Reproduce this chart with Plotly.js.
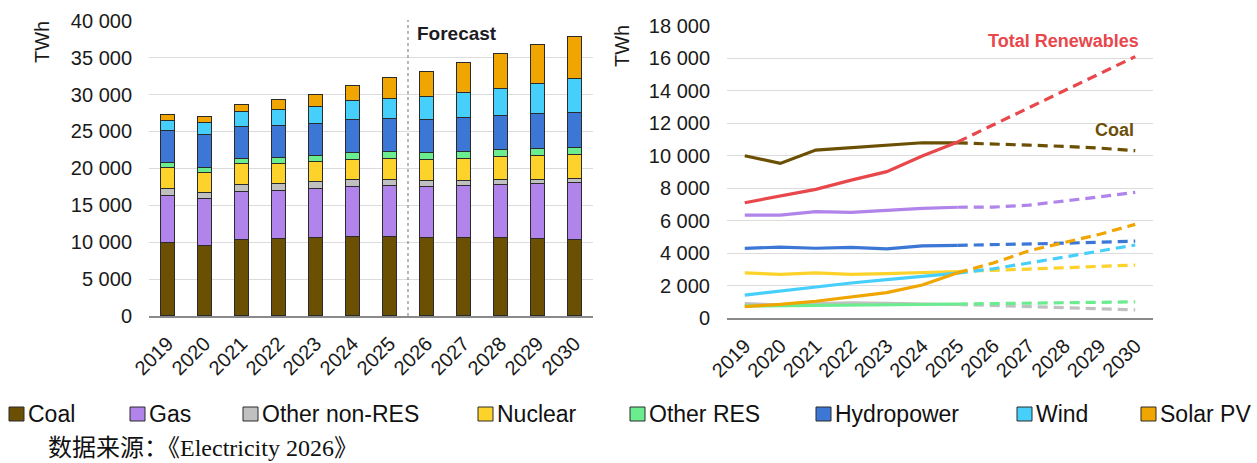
<!DOCTYPE html>
<html><head><meta charset="utf-8">
<script src="https://cdn.plot.ly/plotly-3.0.1.min.js"></script>
<style>html,body{margin:0;padding:0;background:#fff;} #chart{width:1257px;height:463px;}</style>
</head><body><div id="chart"></div>
<script>
// ---- data (TWh) ----
const years = ['2019','2020','2021','2022','2023','2024','2025','2026','2027','2028','2029','2030'];
const coal        = [10000, 9530, 10350, 10500, 10650, 10800, 10790, 10700, 10650, 10580, 10470, 10310];
const gas         = [6350, 6350, 6560, 6520, 6640, 6760, 6830, 6840, 6960, 7200, 7470, 7750];
const otherNonRes = [900, 820, 900, 950, 920, 880, 850, 780, 720, 650, 590, 520];
const nuclear     = [2800, 2700, 2800, 2700, 2750, 2820, 2880, 2940, 3030, 3110, 3210, 3280];
const otherRes    = [760, 770, 790, 800, 820, 850, 880, 900, 930, 950, 980, 1010];
const hydropower  = [4300, 4380, 4310, 4360, 4270, 4460, 4490, 4520, 4560, 4620, 4680, 4750];
const wind        = [1430, 1680, 1950, 2170, 2380, 2560, 2780, 3050, 3400, 3770, 4140, 4510];
const solarPV     = [720, 860, 1050, 1300, 1580, 2050, 2800, 3400, 4150, 4650, 5170, 5780];
const totalRenewables = [7110, 7520, 7930, 8500, 9020, 9980, 10850, 11900, 12950, 14000, 15100, 16100];
const seriesNames = ['Coal','Gas','Other non-RES','Nuclear','Other RES','Hydropower','Wind','Solar PV'];
const seriesValues = [coal, gas, otherNonRes, nuclear, otherRes, hydropower, wind, solarPV];
const lastActualIndex = 6; // 2025
const forecastLabel = 'Forecast';
const sourceText = '数据来源：《Electricity 2026》';

// ---- styles ----
const colors = ['#6B4F02','#B084EA','#C0C0C0','#FDD22B','#6AEC8F','#3D77D6','#46CFFB','#F0A500'];
const totalColor = '#E8474C';
const W = 1257, H = 463;
const px = x => x / W;
const py = y => 1 - y / H;
const FONT = 'Liberation Sans, Arial, sans-serif';
const legendSwatchX = [9, 130, 243, 478, 630, 816, 1017, 1141];

const traces = [];
// stacked bars (left)
seriesNames.forEach((n, i) => {
  traces.push({
    type: 'bar', name: n, x: years, y: seriesValues[i], xaxis: 'x', yaxis: 'y',
    marker: {color: colors[i], line: {color: '#2b2b2b', width: 1}},
    showlegend: false, hoverinfo: 'x+y+name'
  });
});
// lines (right)
const lineOrder = [2, 4, 3, 6, 5, 7, 1, 0];
const hist = arr => arr.slice(0, lastActualIndex + 1);
const fut = arr => arr.slice(lastActualIndex);
function addLine(name, vals, color) {
  traces.push({type: 'scatter', mode: 'lines', name: name, x: hist(years), y: hist(vals),
    xaxis: 'x2', yaxis: 'y2', line: {color: color, width: 3.2}, showlegend: false});
  traces.push({type: 'scatter', mode: 'lines', name: name, x: fut(years), y: fut(vals),
    xaxis: 'x2', yaxis: 'y2', line: {color: color, width: 3.2, dash: '10px,6px'}, showlegend: false});
}
lineOrder.forEach(i => addLine(seriesNames[i], seriesValues[i], colors[i]));
addLine('Total Renewables', totalRenewables, totalColor);

const tickFont = {family: FONT, size: 20, color: '#1a1a1a'};
const xBase = {type: 'category', range: [-0.5, 11.5], showgrid: false, zeroline: false,
  showline: true, linecolor: '#8a8a8a', linewidth: 2, tickangle: -45, tickfont: tickFont,
  ticks: '', ticklabelstandoff: 6, fixedrange: true};
const yBase = {showgrid: true, gridcolor: '#DCDCDC', gridwidth: 1, zeroline: false, showline: false,
  tickfont: tickFont, tickformat: ',', ticks: '', ticklabelstandoff: 16, fixedrange: true};

const annotations = [
  {xref: 'paper', yref: 'paper', x: px(42), y: py(42), text: 'TWh', showarrow: false, textangle: -90,
    font: {family: FONT, size: 20, color: '#1a1a1a'}, xanchor: 'center', yanchor: 'middle'},
  {xref: 'paper', yref: 'paper', x: px(622), y: py(46), text: 'TWh', showarrow: false, textangle: -90,
    font: {family: FONT, size: 20, color: '#1a1a1a'}, xanchor: 'center', yanchor: 'middle'},
  {xref: 'paper', yref: 'paper', x: px(415), y: py(34), text: '<b>' + forecastLabel + '</b>', showarrow: false,
    font: {family: FONT, size: 19, color: '#1c1c24'}, xanchor: 'left', yanchor: 'middle'},
  {xref: 'paper', yref: 'paper', x: px(1141), y: py(41), text: '<b>Total Renewables</b>', showarrow: false,
    font: {family: FONT, size: 18, color: totalColor}, xanchor: 'right', yanchor: 'middle'},
  {xref: 'paper', yref: 'paper', x: px(1136), y: py(130), text: '<b>Coal</b>', showarrow: false,
    font: {family: FONT, size: 18, color: '#6B4F0A'}, xanchor: 'right', yanchor: 'middle'},
  {xref: 'paper', yref: 'paper', x: px(46), y: py(448), text: sourceText, showarrow: false,
    font: {family: 'Liberation Serif, Times New Roman, Noto Sans CJK SC, serif', size: 24, color: '#111'},
    xanchor: 'left', yanchor: 'middle'}
];
const shapes = [
  {type: 'line', xref: 'x', yref: 'paper', x0: 6.5, x1: 6.5, y0: py(316), y1: py(20),
    line: {color: '#8a8a8a', width: 1.2, dash: '3px,3px'}}
];
// custom legend
seriesNames.forEach((n, i) => {
  const sx = legendSwatchX[i];
  shapes.push({type: 'rect', xref: 'paper', yref: 'paper', x0: px(sx), x1: px(sx + 15),
    y0: py(421), y1: py(407), fillcolor: colors[i], line: {color: '#2b2b2b', width: 1}});
  annotations.push({xref: 'paper', yref: 'paper', x: px(sx + 17), y: py(414), text: n, showarrow: false,
    font: {family: FONT, size: 23, color: '#111'}, xanchor: 'left', yanchor: 'middle'});
});

const layout = {
  width: W, height: H, margin: {l: 0, r: 0, t: 0, b: 0},
  paper_bgcolor: '#fff', plot_bgcolor: '#fff',
  separators: '. ', barmode: 'stack', bargap: 0.61, showlegend: false,
  font: {family: FONT},
  xaxis: Object.assign({}, xBase, {domain: [px(149), px(593)], anchor: 'y'}),
  yaxis: Object.assign({}, yBase, {domain: [py(316), py(20.7)], range: [0, 40000], dtick: 5000, anchor: 'x'}),
  xaxis2: Object.assign({}, xBase, {domain: [px(727), px(1153)], anchor: 'y2'}),
  yaxis2: Object.assign({}, yBase, {domain: [py(318.3), py(25.7)], range: [0, 18000], dtick: 2000, anchor: 'x2'}),
  annotations: annotations, shapes: shapes
};
Plotly.newPlot('chart', traces, layout, {displayModeBar: false, staticPlot: true});
</script></body></html>
